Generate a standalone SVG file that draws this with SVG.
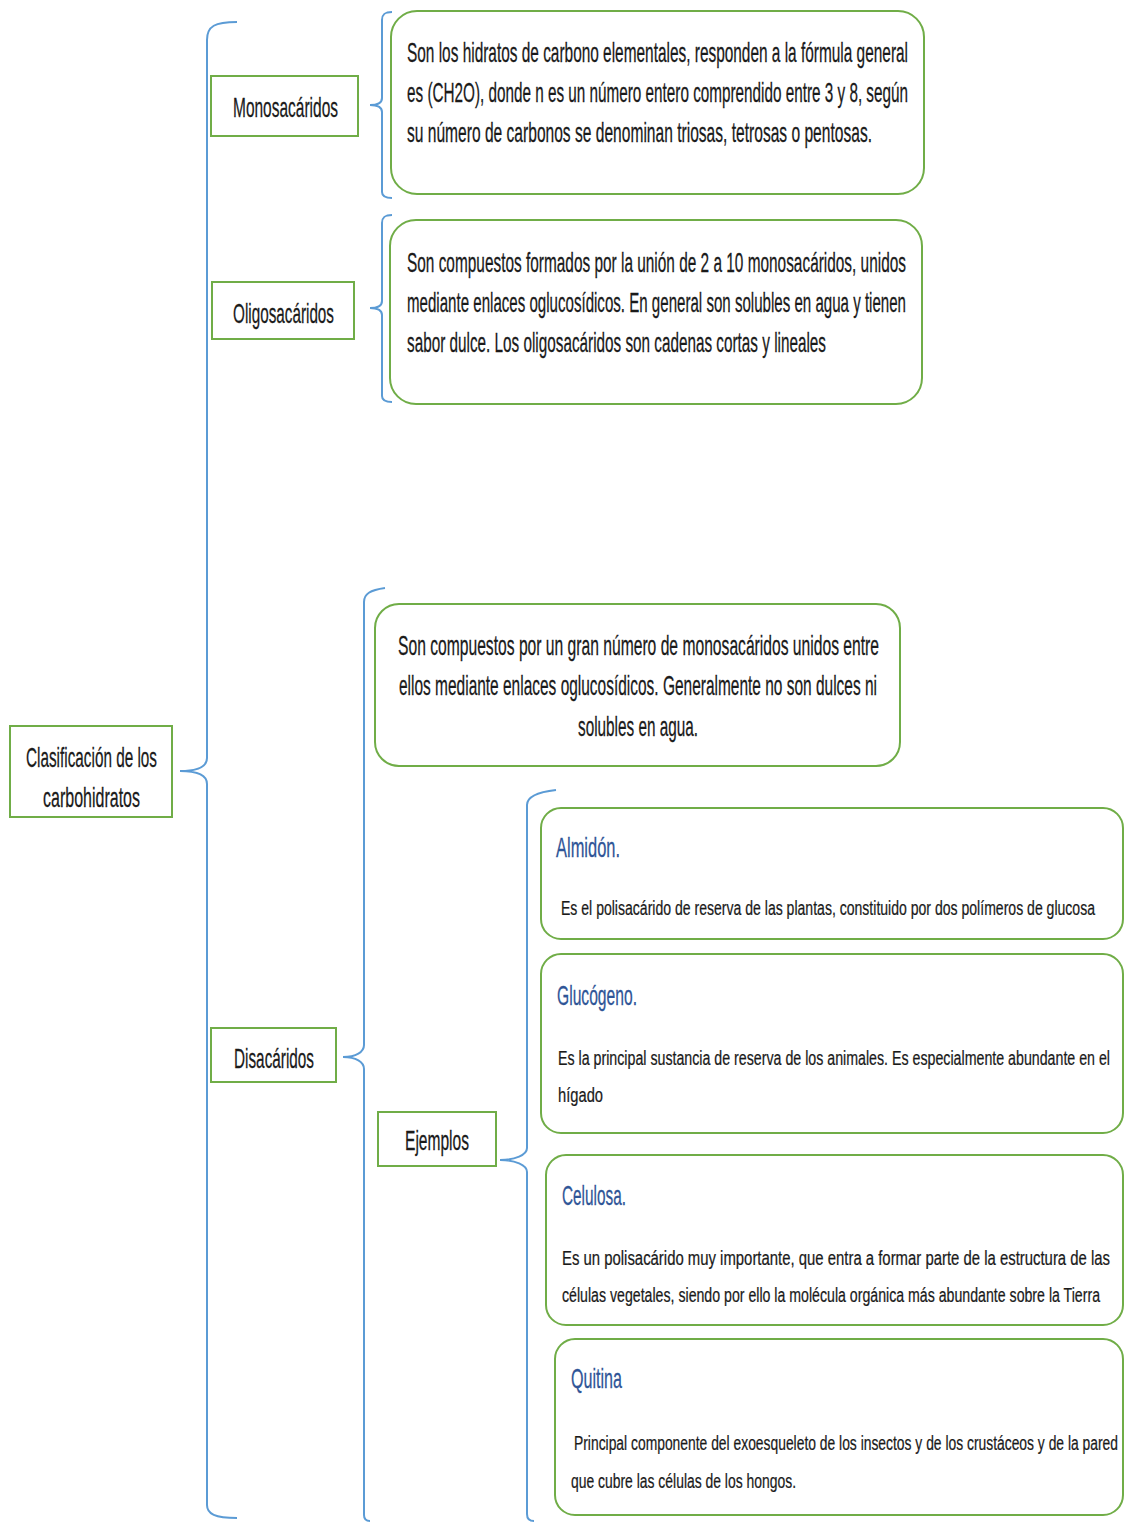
<svg xmlns="http://www.w3.org/2000/svg" width="1124" height="1522" viewBox="0 0 1124 1522">
<style>
.bg{fill:#ffffff}
.lbl{fill:#ffffff;stroke:#70ad47;stroke-width:2}
.card{fill:#ffffff;stroke:#70ad47;stroke-width:2}
.brace{fill:none;stroke:#5b9bd5;stroke-width:2}
text{font-family:"Liberation Sans",Arial,sans-serif;fill:#1a1a1a;stroke:#1a1a1a;stroke-width:0.15}
.big{font-size:15px}
.sm{font-size:13px}
.ttl{font-size:15px;fill:#2f5597;stroke:#2f5597}
</style>
<rect class="bg" x="0" y="0" width="1124" height="1522"/>
<g id="connectors">
<path class="brace" d="M237,22 C215,22 207,26 207,40 L207,758 C207,766 200,771 180,771 C200,771 207,776 207,784 L207,1505 C207,1514 215,1518 237,1518"/>
<path class="brace" d="M392,12 C385,12 382,14 382,20 L382,98 C382,102 378,105 370,105 C378,105 382,108 382,112 L382,192 C382,196 385,198 392,198"/>
<path class="brace" d="M392,215 C385,215 382,217 382,223 L382,301 C382,305 378,308 370,308 C378,308 382,311 382,315 L382,396 C382,400 385,402 392,402"/>
<path class="brace" d="M385,588 C370,590 364,594 364,602 L364,1045 C364,1052 356,1057 343,1057 C356,1057 364,1062 364,1069 L364,1515 C364,1519 366,1521 370,1521"/>
<path class="brace" d="M556,790 C538,792 527,796 527,805 L527,1148 C527,1155 515,1160 500,1160 C515,1160 527,1165 527,1172 L527,1514 C527,1519 530,1521 534,1521"/>
</g>
<g id="root">
<rect class="lbl" x="10" y="726" width="162" height="91"/>
<g transform="translate(26,767) scale(1,1.85)"><text class="big" x="0" y="0" textLength="131" lengthAdjust="spacingAndGlyphs">Clasificación de los</text></g>
<g transform="translate(43,807) scale(1,1.85)"><text class="big" x="0" y="0" textLength="97" lengthAdjust="spacingAndGlyphs">carbohidratos</text></g>
</g>
<g id="monosacaridos">
<rect class="lbl" x="211" y="76" width="147" height="60"/>
<g transform="translate(233,117) scale(1,1.85)"><text class="big" x="0" y="0" textLength="105" lengthAdjust="spacingAndGlyphs">Monosacáridos</text></g>
</g>
<g id="oligosacaridos">
<rect class="lbl" x="212" y="282" width="142" height="57"/>
<g transform="translate(233,323) scale(1,1.85)"><text class="big" x="0" y="0" textLength="101" lengthAdjust="spacingAndGlyphs">Oligosacáridos</text></g>
</g>
<g id="disacaridos">
<rect class="lbl" x="211" y="1028" width="125" height="54"/>
<g transform="translate(234,1068) scale(1,1.85)"><text class="big" x="0" y="0" textLength="80" lengthAdjust="spacingAndGlyphs">Disacáridos</text></g>
</g>
<g id="mono-desc">
<rect class="card" x="391" y="11" width="533" height="183" rx="26"/>
<g transform="translate(407,62) scale(1,1.85)"><text class="big" x="0" y="0" textLength="501" lengthAdjust="spacingAndGlyphs">Son los hidratos de carbono elementales, responden a la fórmula general</text></g>
<g transform="translate(407,102) scale(1,1.85)"><text class="big" x="0" y="0" textLength="501" lengthAdjust="spacingAndGlyphs">es (CH2O), donde n es un número entero comprendido entre 3 y 8, según</text></g>
<g transform="translate(407,142) scale(1,1.85)"><text class="big" x="0" y="0" textLength="465" lengthAdjust="spacingAndGlyphs">su número de carbonos se denominan triosas, tetrosas o pentosas.</text></g>
</g>
<g id="oligo-desc">
<rect class="card" x="390" y="220" width="532" height="184" rx="26"/>
<g transform="translate(407,272) scale(1,1.85)"><text class="big" x="0" y="0" textLength="499" lengthAdjust="spacingAndGlyphs">Son compuestos formados por la unión de 2 a 10 monosacáridos, unidos</text></g>
<g transform="translate(407,312) scale(1,1.85)"><text class="big" x="0" y="0" textLength="499" lengthAdjust="spacingAndGlyphs">mediante enlaces oglucosídicos. En general son solubles en agua y tienen</text></g>
<g transform="translate(407,352) scale(1,1.85)"><text class="big" x="0" y="0" textLength="419" lengthAdjust="spacingAndGlyphs">sabor dulce. Los oligosacáridos son cadenas cortas y lineales</text></g>
</g>
<g id="poli-desc">
<rect class="card" x="375" y="604" width="525" height="162" rx="24"/>
<g transform="translate(398,655) scale(1,1.85)"><text class="big" x="0" y="0" textLength="481" lengthAdjust="spacingAndGlyphs">Son compuestos por un gran número de monosacáridos unidos entre</text></g>
<g transform="translate(399,695) scale(1,1.85)"><text class="big" x="0" y="0" textLength="478" lengthAdjust="spacingAndGlyphs">ellos mediante enlaces oglucosídicos. Generalmente no son dulces ni</text></g>
<g transform="translate(578,736) scale(1,1.85)"><text class="big" x="0" y="0" textLength="120" lengthAdjust="spacingAndGlyphs">solubles en agua.</text></g>
</g>
<g id="ejemplos">
<rect class="lbl" x="378" y="1112" width="118" height="54"/>
<g transform="translate(405,1150) scale(1,1.85)"><text class="big" x="0" y="0" textLength="64" lengthAdjust="spacingAndGlyphs">Ejemplos</text></g>
</g>
<g id="almidon">
<rect class="card" x="541" y="808" width="582" height="131" rx="20"/>
<g transform="translate(556,857) scale(1,1.85)"><text class="ttl" x="0" y="0" textLength="64" lengthAdjust="spacingAndGlyphs">Almidón.</text></g>
<g transform="translate(561,915) scale(1,1.6)"><text class="sm" x="0" y="0" textLength="534" lengthAdjust="spacingAndGlyphs">Es el polisacárido de reserva de las plantas, constituido por dos polímeros de glucosa</text></g>
</g>
<g id="glucogeno">
<rect class="card" x="541" y="954" width="582" height="179" rx="20"/>
<g transform="translate(557,1005) scale(1,1.85)"><text class="ttl" x="0" y="0" textLength="80" lengthAdjust="spacingAndGlyphs">Glucógeno.</text></g>
<g transform="translate(558,1065) scale(1,1.6)"><text class="sm" x="0" y="0" textLength="552" lengthAdjust="spacingAndGlyphs">Es la principal sustancia de reserva de los animales. Es especialmente abundante en el</text></g>
<g transform="translate(558,1102) scale(1,1.6)"><text class="sm" x="0" y="0" textLength="45" lengthAdjust="spacingAndGlyphs">hígado</text></g>
</g>
<g id="celulosa">
<rect class="card" x="546" y="1155" width="577" height="170" rx="20"/>
<g transform="translate(562,1205) scale(1,1.85)"><text class="ttl" x="0" y="0" textLength="64" lengthAdjust="spacingAndGlyphs">Celulosa.</text></g>
<g transform="translate(562,1265) scale(1,1.6)"><text class="sm" x="0" y="0" textLength="548" lengthAdjust="spacingAndGlyphs">Es un polisacárido muy importante, que entra a formar parte de la estructura de las</text></g>
<g transform="translate(562,1302) scale(1,1.6)"><text class="sm" x="0" y="0" textLength="538" lengthAdjust="spacingAndGlyphs">células vegetales, siendo por ello la molécula orgánica más abundante sobre la Tierra</text></g>
</g>
<g id="quitina">
<rect class="card" x="555" y="1339" width="568" height="176" rx="20"/>
<g transform="translate(571,1388) scale(1,1.85)"><text class="ttl" x="0" y="0" textLength="51" lengthAdjust="spacingAndGlyphs">Quitina</text></g>
<g transform="translate(574,1450) scale(1,1.6)"><text class="sm" x="0" y="0" textLength="544" lengthAdjust="spacingAndGlyphs">Principal componente del exoesqueleto de los insectos y de los crustáceos y de la pared</text></g>
<g transform="translate(571,1488) scale(1,1.6)"><text class="sm" x="0" y="0" textLength="225" lengthAdjust="spacingAndGlyphs">que cubre las células de los hongos.</text></g>
</g>
</svg>
